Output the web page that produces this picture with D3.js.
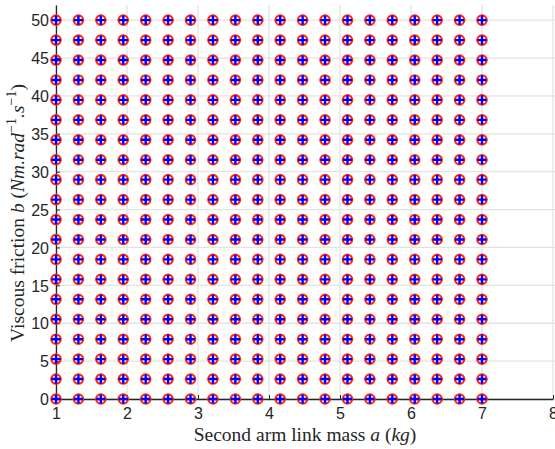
<!DOCTYPE html>
<html>
<head>
<meta charset="utf-8">
<script src="https://cdn.jsdelivr.net/npm/d3@7"></script>
<style>
html,body{margin:0;padding:0;background:#fff;}
svg{display:block;}
.tick text{font-family:"Liberation Sans",Arial,sans-serif;font-size:16px;fill:#262626;}
.lbl{font-family:"Liberation Serif","DejaVu Serif",serif;font-size:19.5px;fill:#262626;}
</style>
</head>
<body>
<svg id="chart" width="555" height="449"></svg>
<script>
// Data: grid of parameter samples (20 values of mass a, 20 values of friction b)
const massValues = [1.0000,1.3158,1.6316,1.9474,2.2632,2.5789,2.8947,3.2105,3.5263,3.8421,
                    4.1579,4.4737,4.7895,5.1053,5.4211,5.7368,6.0526,6.3684,6.6842,7.0000];
const frictionValues = [0.0000,2.6316,5.2632,7.8947,10.5263,13.1579,15.7895,18.4211,21.0526,23.6842,
                        26.3158,28.9474,31.5789,34.2105,36.8421,39.4737,42.1053,44.7368,47.3684,50.0000];
const xTicks = [1,2,3,4,5,6,7,8];
const yTicks = [0,5,10,15,20,25,30,35,40,45,50];

const points = [];
frictionValues.forEach(b => massValues.forEach(a => points.push({a, b})));

const svg = d3.select("#chart");
const pLeft = 56, pRight = 553, pTop = 5, pBottom = 399;

const x = d3.scaleLinear().domain([1, 8]).range([pLeft, pRight]);
const y = d3.scaleLinear().domain([0, 52]).range([pBottom, pTop]);

// grid
const grid = svg.append("g");
grid.selectAll("line.v").data(xTicks).enter().append("line")
  .attr("x1", d => x(d)).attr("x2", d => x(d))
  .attr("y1", pTop).attr("y2", pBottom)
  .attr("stroke", "#e3e3e3").attr("stroke-width", 1.3);
grid.selectAll("line.h").data(yTicks).enter().append("line")
  .attr("x1", pLeft).attr("x2", 555)
  .attr("y1", d => y(d)).attr("y2", d => y(d))
  .attr("stroke", "#e3e3e3").attr("stroke-width", 1.3);

// axes
const xAxis = svg.append("g").attr("transform", `translate(0,${pBottom})`)
  .call(d3.axisBottom(x).tickValues(xTicks).tickFormat(d3.format("d")).tickSizeInner(-4).tickSizeOuter(0).tickPadding(9));
const yAxis = svg.append("g").attr("transform", `translate(${pLeft},0)`)
  .call(d3.axisLeft(y).tickValues(yTicks).tickFormat(d3.format("d")).tickSizeInner(-4).tickSizeOuter(0).tickPadding(7));
[xAxis, yAxis].forEach(g => {
  g.select(".domain").attr("stroke", "#262626").attr("stroke-width", 1.3);
  g.selectAll(".tick line").attr("stroke", "#262626").attr("stroke-width", 1);
});
yAxis.selectAll(".tick text").attr("dy", "0.36em");
xAxis.selectAll(".tick text").attr("dy", "0.71em");

// markers
const m = svg.append("g");
m.selectAll("circle").data(points).enter().append("circle")
  .attr("cx", d => x(d.a)).attr("cy", d => y(d.b)).attr("r", 4.7)
  .attr("fill", "none").attr("stroke", "#ff2a10").attr("stroke-width", 2.2);
m.selectAll("path.p").data(points).enter().append("path")
  .attr("class", "p")
  .attr("d", d => `M${x(d.a)-4.6},${y(d.b)}H${x(d.a)+4.6}M${x(d.a)},${y(d.b)-4.6}V${y(d.b)+4.6}`)
  .attr("stroke", "#0000ff").attr("stroke-width", 2.4).attr("fill", "none");

// x label
const xl = svg.append("text").attr("class", "lbl")
  .attr("x", 305).attr("y", 441).attr("text-anchor", "middle");
xl.append("tspan").text("Second arm link mass ");
xl.append("tspan").attr("font-style", "italic").text("a");
xl.append("tspan").text(" (");
xl.append("tspan").attr("font-style", "italic").text("kg");
xl.append("tspan").text(")");

// y label
const yl = svg.append("text").attr("class", "lbl").attr("font-size", "20px")
  .attr("transform", `translate(24,${213}) rotate(-90)`).attr("text-anchor", "middle");
yl.append("tspan").text("Viscous friction ");
yl.append("tspan").attr("font-style", "italic").text("b");
yl.append("tspan").text(" (");
yl.append("tspan").attr("font-style", "italic").text("Nm.rad");
yl.append("tspan").attr("font-size", "14px").attr("dy", "-8").text("−1");
yl.append("tspan").attr("font-style", "italic").attr("dy", "8").text(".s");
yl.append("tspan").attr("font-size", "14px").attr("dy", "-8").text("−1");
yl.append("tspan").attr("dy", "8").text(")");
</script>
</body>
</html>
